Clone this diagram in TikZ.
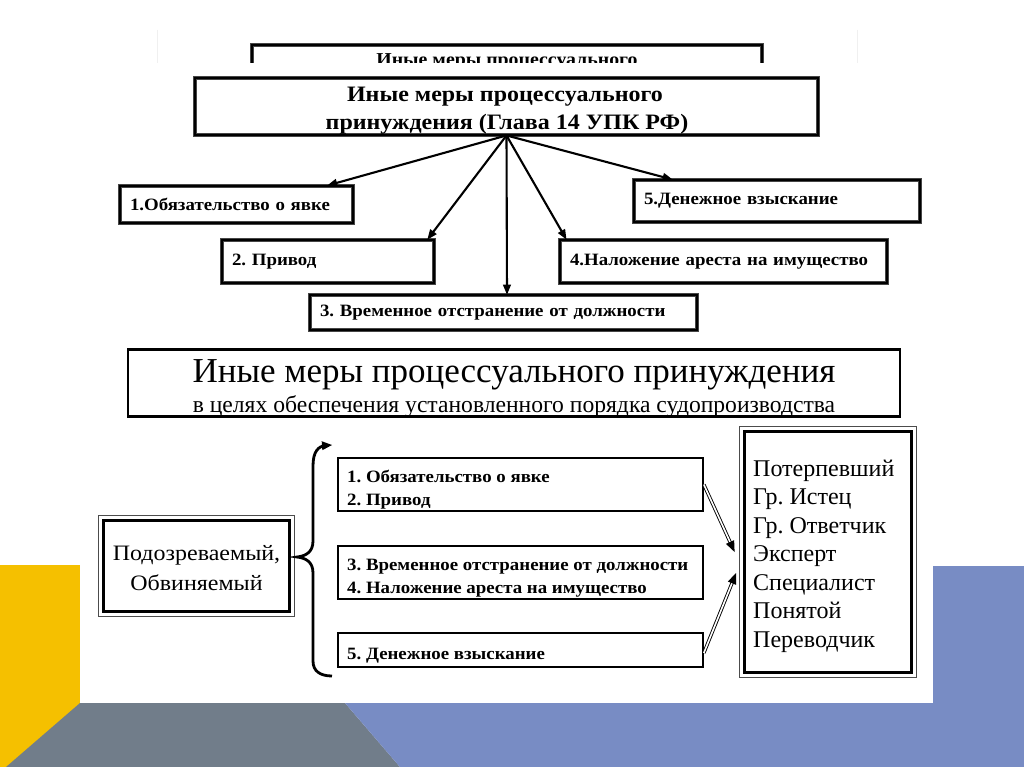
\documentclass[tikz,border=0pt]{standalone}
\usepackage{fontspec}
\setmainfont{Liberation Serif}
\newfontfamily\wideserif[FakeStretch=1.09]{Liberation Serif}
\usetikzlibrary{calc}
\definecolor{slideyellow}{RGB}{245,192,0}
\definecolor{slidegray}{RGB}{113,125,138}
\definecolor{slideblue}{RGB}{120,140,196}
\frenchspacing
% filled arrow head: from #1 towards #2 (tip), length #3, half width #4
\newcommand\myhead[4]{%
  \path ($(#2)!#3!(#1)$) coordinate (ahbase);
  \fill[black] (#2) -- ($(ahbase)!#4!90:(#2)$) -- ($(ahbase)!#4!-90:(#2)$) -- cycle;}
\begin{document}
\begin{tikzpicture}[x=1pt,y=-1pt,
  dblborder/.style={draw=gray!55!black, double=black, double distance=1.5pt, line width=0.9pt},
  ubox/.style={dblborder, inner xsep=10pt, inner ysep=0pt, align=left, anchor=center,
    font={\wideserif\bfseries\fontsize{17.3}{20}\selectfont}},
  topbox/.style={dblborder, inner sep=0pt},
  toptext/.style={anchor=base, inner sep=0pt, font={\wideserif\bfseries\fontsize{22}{26}\selectfont}},
  conn/.style={line width=2.1pt, shorten >=7pt},
  bigbox/.style={draw=black, line width=2.4pt, inner sep=0pt},
  mbox/.style={draw=black, line width=1.6pt, inner sep=0pt},
  mtext/.style={anchor=base west, inner sep=0pt, font={\wideserif\bfseries\fontsize{17.3}{20}\selectfont}},
  thickbox/.style={draw=black, line width=2.8pt, inner sep=0pt},
  outerline/.style={draw=gray!60!black, line width=0.9pt},
  dshaft/.style={draw=black, double=white, double distance=1.6pt, line width=0.9pt, shorten >=8pt},
]
\useasboundingbox (0,0) rectangle (1024,767);
% slide background
\fill[white] (0,0) rectangle (1024,767);
\fill[slideyellow] (0,565) rectangle (80,767);
\fill[slidegray] (80,703) -- (345,703) -- (400,767) -- (6,767) -- cycle;
\fill[slideblue] (345,703) -- (933,703) -- (933,566) -- (1024,566) -- (1024,767) -- (400,767) -- cycle;
% underlying partial picture, covered by the white sheet
\draw[gray!12] (157,30) -- (157,63);
\draw[gray!12] (857,30) -- (857,63);
\node[topbox, minimum width=510pt, minimum height=40pt] (old) at (507,65) {};
\node[anchor=base, inner sep=0pt, font={\wideserif\bfseries\fontsize{18.2}{21}\selectfont}] (oldtxt) at (507,66) {Иные меры процессуального};
\fill[white] (80,63) rectangle (933,703);

% upper scheme
\node[topbox, minimum width=623pt, minimum height=57pt] (top) at (506.5,106.5) {};
\node[toptext] (topa) at (505,102) {Иные меры процессуального};
\node[toptext] (topb) at (507,130) {принуждения (Глава 14 УПК РФ)};

\node[ubox, text width=213pt, minimum height=37pt] (b1) at (236.5,204.5) {1.Обязательство о явке};
\node[ubox, text width=192pt, minimum height=43pt] (b2) at (328,261.5) {2. Привод};
\node[ubox, text width=367pt, minimum height=35pt] (b3) at (503.5,312.5) {3. Временное отстранение от должности};
\node[ubox, text width=307pt, minimum height=43pt] (b4) at (723.5,261.5) {4.Наложение ареста на имущество};
\node[ubox, text width=266pt, minimum height=42pt] (b5) at (777,201) {5.Денежное взыскание};

\coordinate (e1) at ($(b1.north west)!0.888!(b1.north east)$);
\coordinate (e2) at ($(b2.north west)!0.967!(b2.north east)$);
\coordinate (e3) at ($(b3.north west)!0.509!(b3.north east)$);
\coordinate (e4) at ($(b4.north west)!0.021!(b4.north east)$);
\coordinate (e5) at ($(b5.north west)!0.136!(b5.north east)$);
\foreach \e in {e1,e2,e3,e4,e5} {
  \draw[conn] (top.south) -- (\e);
  \myhead{top.south}{\e}{10pt}{4.2pt}
}

% big title
\node[bigbox, minimum width=772pt, minimum height=67pt] (title) at (514,383) {};
\node[anchor=base, inner sep=0pt, font=\fontsize{35}{40}\selectfont] (ttla) at (514,382) {Иные меры процессуального принуждения};
\node[anchor=base, inner sep=0pt, font=\fontsize{23.6}{28}\selectfont] (ttlb) at (514,412) {в целях обеспечения установленного порядка судопроизводства};

% lower scheme
\node[thickbox, minimum width=186pt, minimum height=91pt] (p) at (196.5,566) {};
\draw[outerline] ([shift={(-3.5pt,-3.5pt)}]p.south west) rectangle ([shift={(3.5pt,3.5pt)}]p.north east);
\node[anchor=base, inner sep=0pt, font={\wideserif\fontsize{22}{26}\selectfont}] (pa) at (196.5,560) {Подозреваемый,};
\node[anchor=base, inner sep=0pt, font={\wideserif\fontsize{22}{26}\selectfont}] (pb) at (196.5,590) {Обвиняемый};

\coordinate (brtop) at (332,445);
\coordinate (brdir) at (318,446);
\coordinate (brtip) at (297,557);
\coordinate (brbot) at (332,676);
\draw[line width=2.8pt, shorten <=6pt] (brtop)
  .. controls (318,446) and (313,452) .. (313,466) -- (313,541)
  .. controls (313,552) and (306,556) .. (brtip)
  .. controls (306,558) and (313,562) .. (313,573) -- (313,661)
  .. controls (313,671) and (320,676) .. (brbot);
\myhead{brdir}{brtop}{10pt}{4.5pt}

\node[mbox, minimum width=365pt, minimum height=53pt] (m1) at (520.5,484.5) {};
\node[mbox, minimum width=365pt, minimum height=53pt] (m2) at (520.5,572.5) {};
\node[mbox, minimum width=365pt, minimum height=34pt] (m3) at (520.5,650) {};
\node[mtext] (m1a) at (347,482) {1. Обязательство о явке};
\node[mtext] (m1b) at (347,505) {2. Привод};
\node[mtext] (m2a) at (347,570) {3. Временное отстранение от должности};
\node[mtext] (m2b) at (347,593) {4. Наложение ареста на имущество};
\node[mtext] (m3a) at (347,659) {5. Денежное взыскание};

\node[thickbox, minimum width=167pt, minimum height=241pt] (r) at (828,552) {};
\draw[outerline] ([shift={(-3.5pt,-3.5pt)}]r.south west) rectangle ([shift={(3.5pt,3.5pt)}]r.north east);
\foreach \txt [count=\i] in {Потерпевший,Гр. Истец,Гр. Ответчик,Эксперт,Специалист,Понятой,Переводчик}
  \node[anchor=base west, inner sep=0pt, font=\fontsize{24}{28}\selectfont] (rt\i) at (753,{476+28.5*(\i-1)}) {\txt};

\coordinate (t1) at ($(r.west)+(-8.5pt,0pt)$);
\coordinate (t2) at ($(r.west)+(-7pt,-21pt)$);
\coordinate (s1) at (m1.east);
\coordinate (s2) at ($(m3.east)+(0,-3pt)$);
\draw[dshaft] (s1) -- (t1);
\myhead{s1}{t1}{11pt}{4.5pt}
\draw[dshaft] (s2) -- (t2);
\myhead{s2}{t2}{11pt}{4.5pt}
\end{tikzpicture}
\end{document}
